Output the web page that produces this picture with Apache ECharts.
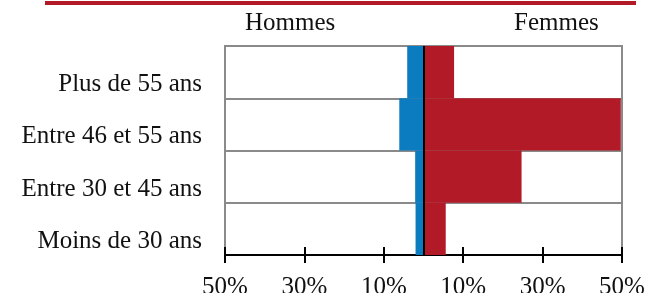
<!DOCTYPE html>
<html>
<head>
<meta charset="utf-8">
<script src="https://cdn.jsdelivr.net/npm/echarts@6/dist/echarts.min.js"></script>
<style>
  html, body { margin: 0; padding: 0; background: #fff; }
  #chart { width: 659px; height: 293px; }
</style>
</head>
<body>
<div id="chart"></div>
<script>
// tranches d'âge, du bas vers le haut
const categories = ['Moins de 30 ans', 'Entre 30 et 45 ans', 'Entre 46 et 55 ans', 'Plus de 55 ans'];
const hommes = [2.0, 2.1, 6.1, 4.1];   // en %
const femmes = [5.6, 24.7, 49.7, 7.7]; // en %
const tickValues = [-50, -30, -10, 10, 30, 50];

const BLUE = '#0a7cbf';
const RED = '#b31a27';
const GRAY = '#8a8a8a';
const FONT = '"Liberation Serif", "DejaVu Serif", serif';

const chart = echarts.init(document.getElementById('chart'));

chart.setOption({
  animation: false,
  grid: {
    left: 225, right: 37, top: 46, bottom: 38,
    containLabel: false, outerBoundsMode: 'none',
    show: true, borderColor: GRAY, borderWidth: 2
  },
  graphic: [
    { type: 'rect', shape: { x: 45, y: 1, width: 591, height: 4 }, style: { fill: RED } },
    { type: 'text', left: 245, top: 11, style: { text: 'Hommes', font: '25px ' + FONT, fill: '#111' } },
    { type: 'text', left: 514, top: 11, style: { text: 'Femmes', font: '25px ' + FONT, fill: '#111' } }
  ],
  xAxis: [
    {
      type: 'value', min: -50, max: 50, position: 'bottom',
      axisLine: { show: true, lineStyle: { color: '#000', width: 2 } },
      axisTick: { show: true, customValues: tickValues, length: 8, lineStyle: { color: '#000', width: 2 } },
      axisLabel: {
        customValues: tickValues, margin: 20,
        formatter: v => Math.abs(v) + '%',
        color: '#111', fontFamily: FONT, fontSize: 25
      },
      splitLine: { show: false }
    },
    {
      type: 'value', min: -50, max: 50, position: 'bottom',
      axisLine: { show: false },
      axisTick: { show: true, inside: true, customValues: tickValues, length: 8, lineStyle: { color: '#000', width: 2 } },
      axisLabel: { show: false },
      splitLine: { show: false }
    }
  ],
  yAxis: {
    type: 'category',
    data: categories,
    axisLine: { show: false, onZero: false },
    axisTick: { show: false },
    axisLabel: {
      margin: 23, color: '#111', fontFamily: FONT, fontSize: 25,
      verticalAlign: 'top', lineHeight: 25
    },
    splitLine: { show: true, lineStyle: { color: GRAY, width: 2 } }
  },
  series: [
    {
      name: 'Hommes', type: 'bar', stack: 'pyr',
      barCategoryGap: '0%',
      data: hommes.map(v => -v),
      itemStyle: { color: BLUE }
    },
    {
      name: 'Femmes', type: 'bar', stack: 'pyr',
      barCategoryGap: '0%',
      data: femmes,
      itemStyle: { color: RED },
      markLine: {
        silent: true, symbol: 'none', label: { show: false },
        lineStyle: { color: '#000', width: 2, type: 'solid' },
        data: [{ xAxis: 0 }]
      }
    }
  ]
});
</script>
</body>
</html>
